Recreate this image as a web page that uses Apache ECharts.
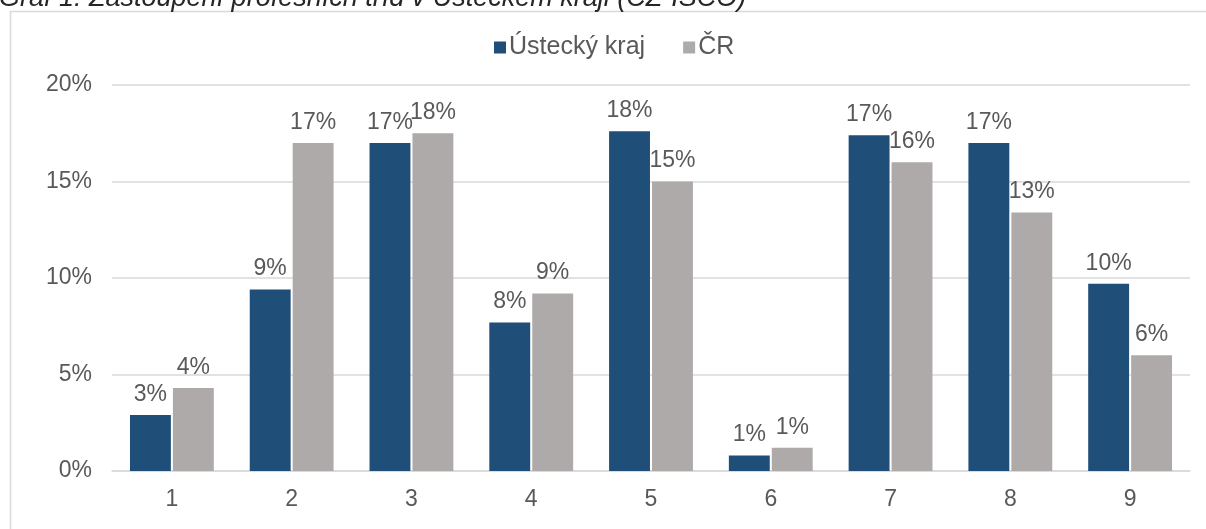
<!DOCTYPE html>
<html>
<head>
<meta charset="utf-8">
<script src="https://cdn.jsdelivr.net/npm/echarts@6/dist/echarts.min.js"></script>
<style>
html,body{margin:0;padding:0;background:#fff;}
#chart{width:1206px;height:529px;}
</style>
</head>
<body>
<div id="chart"></div>
<script>
const titleText = 'Graf 1: Zastoupení profesních tříd v Ústeckém kraji (CZ-ISCO)';
const categories = ['1','2','3','4','5','6','7','8','9'];
const seriesNames = ['Ústecký kraj','ČR'];
const usteckyKraj = [2.9, 9.4, 17.0, 7.7, 17.6, 0.8, 17.4, 17.0, 9.7];
const cr = [4.3, 17.0, 17.5, 9.2, 15.0, 1.2, 16.0, 13.4, 6.0];
const yTicks = [0, 5, 10, 15, 20];

const textColor = '#595959';
const fontFam = '"Liberation Sans", Arial, sans-serif';

const chart = echarts.init(document.getElementById('chart'), null, {renderer:'canvas'});
const labelCfg = {
  show: true,
  position: 'top',
  distance: 9,
  color: textColor,
  fontSize: 23,
  fontFamily: fontFam,
  formatter: p => Math.round(p.value) + '%'
};
chart.setOption({
  animation: false,
  backgroundColor: '#fff',
  graphic: [
    {
      type: 'rect', silent: true, z: -1,
      shape: {x: 10.5, y: 11.5, width: 1220, height: 560},
      style: {fill: '#fff', stroke: '#d9d9d9', lineWidth: 1.5}
    },
    {
      type: 'text', silent: true,
      x: -1, y: -2,
      style: {
        text: titleText,
        font: 'italic 27px "Liberation Sans", Arial, sans-serif',
        fill: '#262626',
        verticalAlign: 'middle',
        align: 'left'
      }
    }
  ],
  legend: {
    data: seriesNames,
    left: 489,
    top: 30,
    itemWidth: 12,
    itemHeight: 12,
    itemGap: 38,
    icon: 'rect',
    textStyle: {color: textColor, fontSize: 25, fontFamily: fontFam, padding: [0,0,0,-2]}
  },
  grid: {left: 112, right: 16, top: 85, bottom: 58, containLabel: false},
  xAxis: {
    type: 'category',
    data: categories,
    axisLine: {show: true, lineStyle: {color: '#d9d9d9', width: 1.5}},
    axisTick: {show: false},
    axisLabel: {color: textColor, fontSize: 23, fontFamily: fontFam, margin: 17}
  },
  yAxis: {
    type: 'value',
    min: yTicks[0],
    max: yTicks[yTicks.length-1],
    interval: 5,
    axisLine: {show: false},
    axisTick: {show: false},
    splitLine: {lineStyle: {color: '#d9d9d9', width: 1.5}},
    axisLabel: {color: textColor, fontSize: 23, fontFamily: fontFam, margin: 20, formatter: '{value}%'}
  },
  series: [
    {
      name: seriesNames[0], type: 'bar', data: usteckyKraj,
      barGap: '5%', barCategoryGap: '30%',
      itemStyle: {color: '#1F4E79'},
      label: labelCfg
    },
    {
      name: seriesNames[1], type: 'bar', data: cr,
      barGap: '5%', barCategoryGap: '30%',
      itemStyle: {color: '#AEAAAA'},
      label: labelCfg
    }
  ]
});
</script>
</body>
</html>
